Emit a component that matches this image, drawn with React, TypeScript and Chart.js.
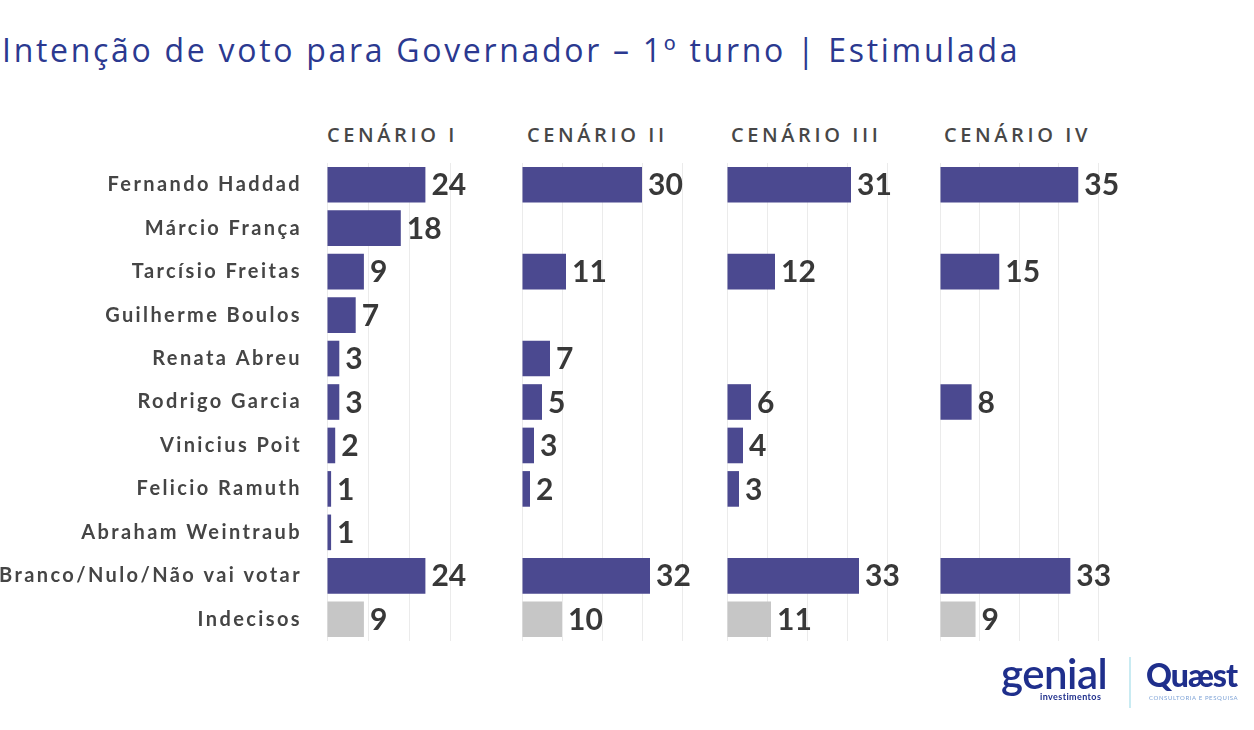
import React, { useEffect, useRef } from "react";
import { Chart, registerables } from "chart.js";

Chart.register(...registerables);

const categories = [
  "Fernando Haddad",
  "Márcio França",
  "Tarcísio Freitas",
  "Guilherme Boulos",
  "Renata Abreu",
  "Rodrigo Garcia",
  "Vinicius Poit",
  "Felicio Ramuth",
  "Abraham Weintraub",
  "Branco/Nulo/Não vai votar",
  "Indecisos",
];
const cenario1 = [24, 18, 9, 7, 3, 3, 2, 1, 1, 24, 9];
const cenario2 = [30, null, 11, null, 7, 5, 3, 2, null, 32, 10];
const cenario3 = [31, null, 12, null, null, 6, 4, 3, null, 33, 11];
const cenario4 = [35, null, 15, null, null, 8, null, null, null, 33, 9];
const scenarioTitles = ["CENÁRIO I", "CENÁRIO II", "CENÁRIO III", "CENÁRIO IV"];
const axisMax = [30, 40, 40, 40];
const gridStep = 10;

const PURPLE = "#4b4990";
const GRAY = "#c6c6c6";
const TITLE_BLUE = "#2b3990";

const valueLabels = {
  id: "valueLabels",
  afterDatasetsDraw(chart: any) {
    const ctx = chart.ctx;
    const meta = chart.getDatasetMeta(0);
    const data = chart.data.datasets[0].data;
    ctx.save();
    ctx.letterSpacing = "0px";
    ctx.font = "bold 30px Lato";
    ctx.fillStyle = "#383838";
    ctx.textBaseline = "middle";
    ctx.textAlign = "left";
    meta.data.forEach((bar: any, i: number) => {
      const v = data[i];
      if (v == null) return;
      ctx.fillText(String(v), bar.x + 6, bar.y + 1);
    });
    ctx.restore();
  },
};

const spacing = {
  id: "spacing",
  beforeDraw(chart: any) {
    chart.ctx.letterSpacing = "2.4px";
  },
};

type PanelProps = {
  values: (number | null)[];
  max: number;
  showLabels: boolean;
  left: number;
  top: number;
  width: number;
  height: number;
  pad: { left: number; right: number; top: number; bottom: number };
  yWidth?: number;
};

function Panel(p: PanelProps) {
  const ref = useRef<HTMLCanvasElement | null>(null);
  useEffect(() => {
    if (!ref.current) return;
    const chart = new Chart(ref.current, {
      type: "bar",
      data: {
        labels: categories,
        datasets: [
          {
            data: p.values as any,
            backgroundColor: p.values.map((_, i) =>
              i === categories.length - 1 ? GRAY : PURPLE
            ),
            categoryPercentage: 1,
            barPercentage: 0.82,
          },
        ],
      },
      options: {
        indexAxis: "y",
        animation: false,
        responsive: false,
        layout: { padding: p.pad },
        plugins: {
          legend: { display: false },
          tooltip: { enabled: false },
        },
        scales: {
          x: {
            min: 0,
            max: p.max,
            position: "bottom",
            grid: { color: "#ebebeb", drawTicks: false, lineWidth: 1 },
            border: { display: false },
            ticks: { display: false, stepSize: gridStep },
            afterFit: (s: any) => {
              s.height = 0;
              s.paddingLeft = 0;
              s.paddingRight = 0;
            },
          },
          y: {
            display: p.showLabels,
            grid: { display: false, drawTicks: false },
            border: { display: false },
            ticks: {
              padding: 25,
              color: "#454545",
              font: { family: "Lato", weight: "bold", size: 20 },
            },
            afterFit: (s: any) => {
              if (p.yWidth) s.width = p.yWidth;
              s.paddingTop = 0;
              s.paddingBottom = 0;
            },
          },
        },
      } as any,
      plugins: [valueLabels, spacing],
    });
    return () => chart.destroy();
  }, []);
  return (
    <canvas
      ref={ref}
      width={p.width}
      height={p.height}
      style={{
        position: "absolute",
        left: p.left,
        top: p.top,
        width: p.width,
        height: p.height,
      }}
    />
  );
}

const headerLeft = [327, 527, 731, 944];

export default function App() {
  const common = { top: 150, height: 510 };
  return (
    <div
      style={{
        position: "fixed",
        left: 0,
        top: 0,
        width: 1254,
        height: 730,
        background: "#ffffff",
        overflow: "hidden",
        fontFamily: "Lato, sans-serif",
      }}
    >
      <div
        style={{
          position: "absolute",
          left: 2,
          top: 34,
          fontFamily: "'Open Sans', sans-serif",
          fontWeight: 500,
          fontSize: 32,
          lineHeight: "32px",
          letterSpacing: "2.7px",
          color: TITLE_BLUE,
          whiteSpace: "nowrap",
        }}
      >
        Intenção de voto para Governador – 1º turno | Estimulada
      </div>
      {scenarioTitles.map((t, i) => (
        <div
          key={t}
          style={{
            position: "absolute",
            left: headerLeft[i],
            top: 125,
            fontFamily: "'Open Sans', sans-serif",
            fontWeight: 600,
            fontSize: 20,
            lineHeight: "20px",
            letterSpacing: "3.6px",
            color: "#474747",
            whiteSpace: "nowrap",
          }}
        >
          {t}
        </div>
      ))}
      <Panel
        values={cenario1}
        max={axisMax[0]}
        showLabels={true}
        left={0}
        width={520}
        {...common}
        pad={{ left: 0, right: 70, top: 13, bottom: 19 }}
        yWidth={327}
      />
      <Panel
        values={cenario2}
        max={axisMax[1]}
        showLabels={false}
        left={510}
        width={210}
        {...common}
        pad={{ left: 12, right: 38, top: 13, bottom: 19 }}
      />
      <Panel
        values={cenario3}
        max={axisMax[2]}
        showLabels={false}
        left={720}
        width={210}
        {...common}
        pad={{ left: 7, right: 43, top: 13, bottom: 19 }}
      />
      <Panel
        values={cenario4}
        max={axisMax[3]}
        showLabels={false}
        left={930}
        width={220}
        {...common}
        pad={{ left: 10, right: 52, top: 13, bottom: 19 }}
      />
      {/* logos */}
      <div
        style={{
          position: "absolute",
          left: 1001,
          top: 652,
          fontFamily: "Lato, sans-serif",
          fontWeight: 600,
          fontSize: 42,
          lineHeight: "42px",
          color: "#1f2f8c",
          letterSpacing: "-0.5px",
        }}
      >
        genial
      </div>
      <div
        style={{
          position: "absolute",
          left: 1040,
          top: 692,
          fontFamily: "Lato, sans-serif",
          fontWeight: 700,
          fontSize: 9,
          lineHeight: "9px",
          color: "#1f2f8c",
          letterSpacing: "0.4px",
        }}
      >
        investimentos
      </div>
      <div
        style={{
          position: "absolute",
          left: 1129,
          top: 657,
          width: 2,
          height: 51,
          background: "#c9ebf2",
        }}
      />
      <div
        style={{
          position: "absolute",
          left: 1146,
          top: 659,
          fontFamily: "Lato, sans-serif",
          fontWeight: 900,
          fontSize: 32,
          lineHeight: "32px",
          color: "#1f2f8c",
          letterSpacing: "-1px",
        }}
      >
        Quæst
      </div>
      <div
        style={{
          position: "absolute",
          left: 1149,
          top: 695,
          fontFamily: "Lato, sans-serif",
          fontSize: 6,
          lineHeight: "6px",
          color: "#7fa3d6",
          letterSpacing: "0.6px",
          whiteSpace: "nowrap",
        }}
      >
        CONSULTORIA E PESQUISA
      </div>
    </div>
  );
}
